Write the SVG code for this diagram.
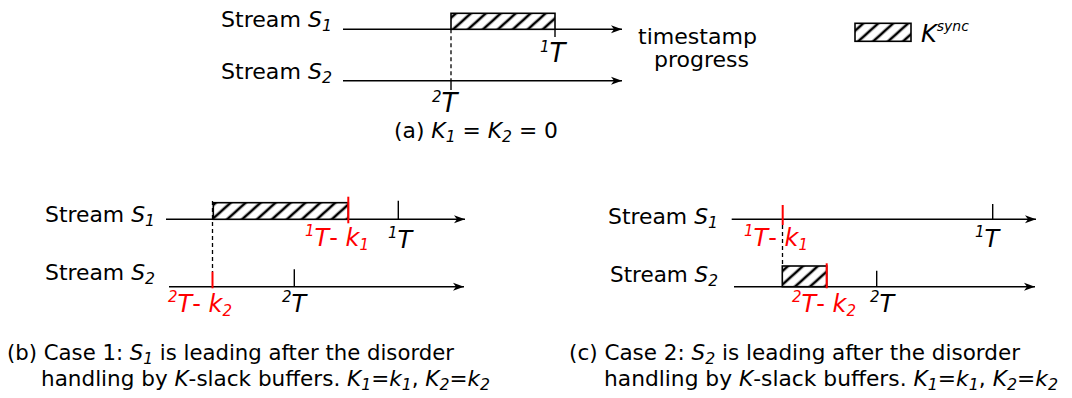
<svg xmlns="http://www.w3.org/2000/svg" width="1072" height="398" viewBox="0 0 1072 398">
<style>
text{font-family:"DejaVu Sans","Noto Sans",sans-serif;fill:#000}
.i{font-style:italic}
.r{fill:#ff0000}
.ax{stroke:#000;stroke-width:1.5;fill:none;marker-end:url(#ah)}
.tk{stroke:#000;stroke-width:1.4}
.rt{stroke:#ff0000;stroke-width:2}
.ds{stroke:#000;stroke-width:1.3;stroke-dasharray:4 3}
.hb{fill:url(#hatch);stroke:#000;stroke-width:1.6}
</style>
<defs>
<pattern id="hatch" patternUnits="userSpaceOnUse" width="10" height="10" patternTransform="rotate(48)">
<rect width="10" height="10" fill="#fff"/>
<line x1="5" y1="-1" x2="5" y2="11" stroke="#000" stroke-width="2.6"/>
</pattern>
<marker id="ah" markerUnits="userSpaceOnUse" markerWidth="14" markerHeight="10" viewBox="-12 -5 14 10" refX="0" refY="0" orient="auto">
<path d="M0,0 L-11,-4 L-8,0 L-11,4 Z" fill="#000"/>
</marker>
</defs>
<rect width="1072" height="398" fill="#fff"/>

<g id="connectors">
<line class="ax" x1="343" y1="29.3" x2="622" y2="29.3"/>
<line class="ax" x1="343" y1="80.7" x2="622" y2="80.7"/>
<line class="ax" x1="166" y1="219.3" x2="465" y2="219.3"/>
<line class="ax" x1="169" y1="286.7" x2="464" y2="286.7"/>
<line class="ax" x1="731.7" y1="219.3" x2="1036" y2="219.3"/>
<line class="ax" x1="734" y1="286.7" x2="1035" y2="286.7"/>
</g>

<g id="panel-a">
<text x="221" y="27" font-size="21" textLength="111" lengthAdjust="spacingAndGlyphs">Stream <tspan class="i">S</tspan><tspan class="i" font-size="15" dy="4">1</tspan></text>
<text x="221" y="79" font-size="21" textLength="111" lengthAdjust="spacingAndGlyphs">Stream <tspan class="i">S</tspan><tspan class="i" font-size="15" dy="4">2</tspan></text>
<rect class="hb" x="451" y="13.3" width="104" height="16"/>
<line class="tk" x1="555" y1="29" x2="555" y2="37"/>
<line class="ds" x1="451" y1="29.3" x2="451" y2="80.7"/>
<line class="tk" x1="451" y1="80" x2="451" y2="90"/>
<text x="540" y="61.5" font-size="26" class="i"><tspan font-size="15" dy="-10">1</tspan><tspan dy="10">T</tspan></text>
<text x="432" y="111.5" font-size="26" class="i"><tspan font-size="15" dy="-10">2</tspan><tspan dy="10">T</tspan></text>
<text x="638" y="43.5" font-size="21" textLength="119" lengthAdjust="spacingAndGlyphs">timestamp</text>
<text x="654" y="66.5" font-size="21" textLength="95" lengthAdjust="spacingAndGlyphs">progress</text>
<text x="394" y="138" font-size="21" textLength="164" lengthAdjust="spacingAndGlyphs">(a) <tspan class="i">K</tspan><tspan class="i" font-size="15" dy="4">1</tspan><tspan dy="-4"> = </tspan><tspan class="i">K</tspan><tspan class="i" font-size="15" dy="4">2</tspan><tspan dy="-4"> = 0</tspan></text>
</g>

<g id="legend">
<rect class="hb" x="855" y="23.3" width="56" height="18"/>
<text x="921" y="41.5" font-size="24" class="i">K<tspan font-size="14" dy="-11">sync</tspan></text>
</g>

<g id="panel-b">
<text x="45" y="222" font-size="21" textLength="110" lengthAdjust="spacingAndGlyphs">Stream <tspan class="i">S</tspan><tspan class="i" font-size="15" dy="4">1</tspan></text>
<text x="45" y="280" font-size="21" textLength="110" lengthAdjust="spacingAndGlyphs">Stream <tspan class="i">S</tspan><tspan class="i" font-size="15" dy="4">2</tspan></text>
<rect class="hb" x="213.3" y="202.7" width="135" height="16.6"/>
<line class="ds" x1="212.5" y1="201" x2="212.5" y2="272"/>
<line class="rt" x1="348.3" y1="196.7" x2="348.3" y2="223.3"/>
<line class="tk" x1="398.3" y1="200.7" x2="398.3" y2="219.3"/>
<line class="rt" x1="212.5" y1="271.7" x2="212.5" y2="288.3"/>
<line class="tk" x1="294.3" y1="269.3" x2="294.3" y2="286.7"/>
<text x="305" y="245.5" font-size="24" class="r i"><tspan font-size="15" dy="-10">1</tspan><tspan dy="10">T</tspan><tspan font-style="normal">- </tspan>k<tspan font-size="15" dy="4">1</tspan></text>
<text x="388" y="248" font-size="24" class="i"><tspan font-size="15" dy="-10">1</tspan><tspan dy="10">T</tspan></text>
<text x="168" y="312" font-size="24" class="r i"><tspan font-size="15" dy="-10">2</tspan><tspan dy="10">T</tspan><tspan font-style="normal">- </tspan>k<tspan font-size="15" dy="4">2</tspan></text>
<text x="282" y="312" font-size="24" class="i"><tspan font-size="15" dy="-10">2</tspan><tspan dy="10">T</tspan></text>
<text x="7" y="360" font-size="20.6" textLength="447" lengthAdjust="spacingAndGlyphs">(b) Case 1: <tspan class="i">S</tspan><tspan class="i" font-size="15" dy="4">1</tspan><tspan dy="-4"> is leading after the disorder</tspan></text>
<text x="41" y="386" font-size="20.6" textLength="449" lengthAdjust="spacingAndGlyphs">handling by <tspan class="i">K</tspan>-slack buffers. <tspan class="i">K</tspan><tspan class="i" font-size="15" dy="4">1</tspan><tspan dy="-4">=</tspan><tspan class="i">k</tspan><tspan class="i" font-size="15" dy="4">1</tspan><tspan dy="-4">, </tspan><tspan class="i">K</tspan><tspan class="i" font-size="15" dy="4">2</tspan><tspan dy="-4">=</tspan><tspan class="i">k</tspan><tspan class="i" font-size="15" dy="4">2</tspan></text>
</g>

<g id="panel-c">
<text x="608" y="224" font-size="21" textLength="110" lengthAdjust="spacingAndGlyphs">Stream <tspan class="i">S</tspan><tspan class="i" font-size="15" dy="4">1</tspan></text>
<text x="610" y="282" font-size="21" textLength="108" lengthAdjust="spacingAndGlyphs">Stream <tspan class="i">S</tspan><tspan class="i" font-size="15" dy="4">2</tspan></text>
<rect class="hb" x="782.3" y="266" width="44.4" height="20.7"/>
<line class="rt" x1="782.7" y1="205" x2="782.7" y2="225"/>
<line class="ds" x1="782.5" y1="225" x2="782.5" y2="266"/>
<line class="tk" x1="992.7" y1="204" x2="992.7" y2="219.3"/>
<line class="rt" x1="826.7" y1="263.3" x2="826.7" y2="288.3"/>
<line class="tk" x1="876.7" y1="270.7" x2="876.7" y2="286.7"/>
<text x="744" y="245.5" font-size="24" class="r i"><tspan font-size="15" dy="-10">1</tspan><tspan dy="10">T</tspan><tspan font-style="normal">- </tspan>k<tspan font-size="15" dy="4">1</tspan></text>
<text x="975" y="247" font-size="24" class="i"><tspan font-size="15" dy="-10">1</tspan><tspan dy="10">T</tspan></text>
<text x="792" y="311.5" font-size="24" class="r i"><tspan font-size="15" dy="-10">2</tspan><tspan dy="10">T</tspan><tspan font-style="normal">- </tspan>k<tspan font-size="15" dy="4">2</tspan></text>
<text x="870" y="311.5" font-size="24" class="i"><tspan font-size="15" dy="-10">2</tspan><tspan dy="10">T</tspan></text>
<text x="569" y="360" font-size="20.6" textLength="451" lengthAdjust="spacingAndGlyphs">(c) Case 2: <tspan class="i">S</tspan><tspan class="i" font-size="15" dy="4">2</tspan><tspan dy="-4"> is leading after the disorder</tspan></text>
<text x="604" y="386" font-size="20.6" textLength="454" lengthAdjust="spacingAndGlyphs">handling by <tspan class="i">K</tspan>-slack buffers. <tspan class="i">K</tspan><tspan class="i" font-size="15" dy="4">1</tspan><tspan dy="-4">=</tspan><tspan class="i">k</tspan><tspan class="i" font-size="15" dy="4">1</tspan><tspan dy="-4">, </tspan><tspan class="i">K</tspan><tspan class="i" font-size="15" dy="4">2</tspan><tspan dy="-4">=</tspan><tspan class="i">k</tspan><tspan class="i" font-size="15" dy="4">2</tspan></text>
</g>
</svg>
